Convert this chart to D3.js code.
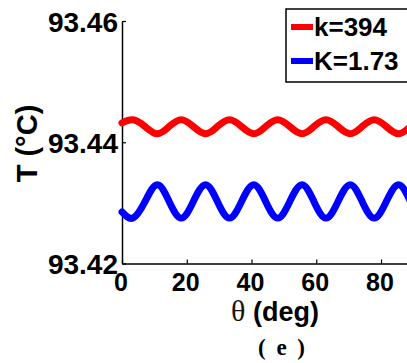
<!DOCTYPE html>
<html>
<head>
<meta charset="utf-8">
<script src="https://cdn.jsdelivr.net/npm/d3@7"></script>
<style>
  html, body { margin: 0; padding: 0; background: #fff; }
  svg { display: block; }
  text { font-family: "Liberation Sans", Arial, sans-serif; font-weight: bold; fill: #000; }
</style>
</head>
<body>
<script>
// ---- data ----
const theta = [0, 3.4, 7.1, 10.9, 14.6, 18.3, 22.0, 25.8, 29.5, 33.2, 36.9, 40.7, 44.4,
               48.1, 51.8, 55.6, 59.3, 63.0, 66.7, 70.5, 74.2, 77.9, 81.6, 85.4, 89.1];
const redT  = [93.4432, 93.4437, 93.4426, 93.4414, 93.4426, 93.4437, 93.4426, 93.4414, 93.4426,
               93.4437, 93.4426, 93.4414, 93.4426, 93.4437, 93.4426, 93.4414, 93.4426, 93.4437,
               93.4426, 93.4414, 93.4426, 93.4437, 93.4426, 93.4414, 93.4426];
const blueT = [93.4285, 93.4275, 93.4302, 93.4330, 93.4302, 93.4275, 93.4302, 93.4330, 93.4302,
               93.4275, 93.4302, 93.4330, 93.4302, 93.4275, 93.4302, 93.4330, 93.4302, 93.4275,
               93.4302, 93.4330, 93.4302, 93.4275, 93.4302, 93.4330, 93.4302];
const seriesNames = ["k=394", "K=1.73"];
const seriesColors = ["#ff0000", "#0000ff"];
const xTicks = [0, 20, 40, 60, 80];
const yTicks = [93.42, 93.44, 93.46];
const yTickLabels = ["93.42", "93.44", "93.46"];

const W = 407, H = 363;
const svg = d3.select("body").append("svg").attr("width", W).attr("height", H);

const x = d3.scaleLinear().domain([0, 90]).range([122, 413.4]);
const y = d3.scaleLinear().domain([93.42, 93.46]).range([263.5, 21]);

// y axis
const yAxis = d3.axisLeft(y).tickValues(yTicks).tickFormat((d, i) => yTickLabels[i])
  .tickSizeInner(-4).tickSizeOuter(0).tickPadding(7);
const gy = svg.append("g").attr("transform", "translate(122,0)").call(yAxis);
gy.select(".domain").attr("stroke", "#000").attr("stroke-width", 1.5);
gy.selectAll(".tick line").attr("stroke", "#000").attr("stroke-width", 1.2);
gy.selectAll(".tick text").attr("font-size", 28).attr("x", -4).attr("dy", "0.36em")
  .style("font-family", '"Liberation Sans", Arial, sans-serif').style("font-weight", "bold").attr("fill", "#000");

// x axis
const xAxis = d3.axisBottom(x).tickValues(xTicks).tickFormat(d3.format("d"))
  .tickSizeInner(-4).tickSizeOuter(0).tickPadding(8);
const gx = svg.append("g").attr("transform", "translate(0,263.5)").call(xAxis);
gx.select(".domain").attr("stroke", "#000").attr("stroke-width", 1.5);
gx.selectAll(".tick line").attr("stroke", "#000").attr("stroke-width", 1.2);
gx.selectAll(".tick text").attr("font-size", 25).attr("dx", -1.5).attr("y", 27).attr("dy", 0)
  .style("font-family", '"Liberation Sans", Arial, sans-serif').style("font-weight", "bold").attr("fill", "#000");

// lines
const line = d3.line().x((d, i) => x(theta[i])).y(d => y(d)).curve(d3.curveNatural);
[redT, blueT].forEach((vals, k) => {
  svg.append("path").datum(vals)
    .attr("d", line)
    .attr("fill", "none")
    .attr("stroke", seriesColors[k])
    .attr("stroke-width", 7)
    .attr("stroke-linejoin", "round")
    .attr("stroke-linecap", "round");
});

// y label
svg.append("text")
  .attr("transform", "translate(37,143.5) rotate(-90)")
  .attr("text-anchor", "middle")
  .attr("font-size", 29)
  .text("T (°C)");

// x label
const xl = svg.append("text").attr("x", 275).attr("y", 321).attr("text-anchor", "middle").attr("font-size", 27);
xl.append("tspan").style("font-family", '"Liberation Serif", "Times New Roman", serif').style("font-weight", "normal")
  .attr("font-size", 30).attr("fill", "#1a1208").text("θ");
xl.append("tspan").text(" (deg)");

// panel label
svg.append("text").attr("x", 258).attr("y", 355)
  .style("font-family", '"Liberation Serif", "Times New Roman", serif')
  .style("font-weight", "bold")
  .attr("fill", "#1a1208")
  .attr("font-size", 23)
  .attr("textLength", 47).attr("lengthAdjust", "spacing")
  .text("( e )");

// legend
const lg = svg.append("g");
lg.append("rect").attr("x", 286).attr("y", 9).attr("width", 140).attr("height", 73)
  .attr("fill", "#fff").attr("stroke", "#000").attr("stroke-width", 1.5);
seriesNames.forEach((name, k) => {
  const cy = 27 + k * 34;
  lg.append("line").attr("x1", 291).attr("x2", 313).attr("y1", cy).attr("y2", cy)
    .attr("stroke", seriesColors[k]).attr("stroke-width", 6);
  lg.append("text").attr("x", 314).attr("y", cy + 9).attr("font-size", 26).text(name);
});
</script>
</body>
</html>
